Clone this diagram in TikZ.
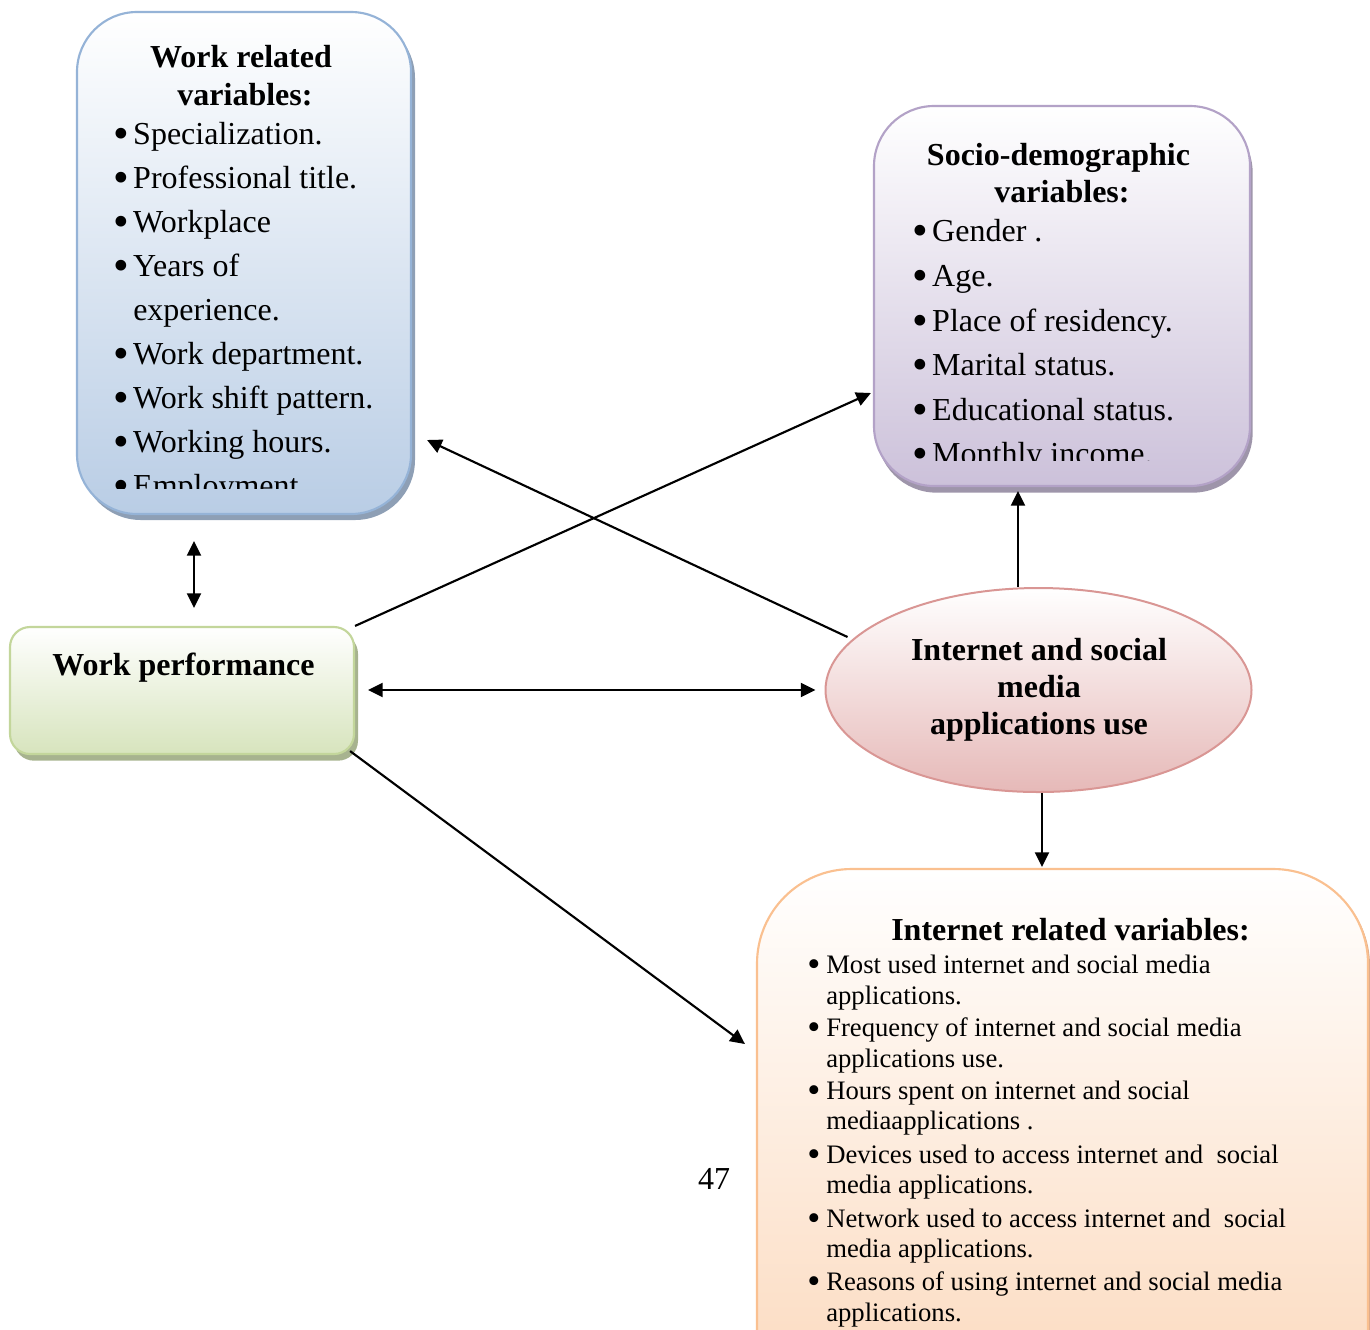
\documentclass[tikz,border=0pt]{standalone}
\usepackage{fontspec}
\setmainfont{Liberation Serif}
\usetikzlibrary{arrows.meta,shadows,calc,shapes.geometric}
\definecolor{bluefill}{HTML}{B9CDE5}
\definecolor{blueline}{HTML}{95B3D7}
\definecolor{blueshadow}{HTML}{8E9FB5}
\definecolor{purpfill}{HTML}{CCC1DA}
\definecolor{purpline}{HTML}{B3A2C7}
\definecolor{purpshadow}{HTML}{9E95AA}
\definecolor{greenfill}{HTML}{D7E4BD}
\definecolor{greenline}{HTML}{C3D69B}
\definecolor{greenshadow}{HTML}{A7B38F}
\definecolor{redfill}{HTML}{E6B9B8}
\definecolor{redline}{HTML}{D99694}
\definecolor{orfill}{HTML}{FBD3B2}
\definecolor{orline}{HTML}{FAC090}
\definecolor{orshadow}{HTML}{D9A98A}
\tikzset{
  boxshape/.style={rectangle, line width=1.6pt, inner sep=0pt},
  ttl/.style={anchor=base, inner sep=0pt, font=\fontsize{24}{28}\selectfont\bfseries},
  itm/.style={anchor=base west, inner sep=0pt, font=\fontsize{24}{28}\selectfont},
  sitm/.style={anchor=base west, inner sep=0pt, font=\fontsize{20}{24}\selectfont},
  conn/.style={line width=1.6pt, black},
  tip/.style={-{Triangle[length=11pt,width=10.5pt]}},
  dtip/.style={{Triangle[length=11pt,width=10.5pt]}-{Triangle[length=11pt,width=10.5pt]}}
}
\newcommand{\bul}[1]{\makebox[#1][l]{\raisebox{-0.13em}{\scalebox{1.4}{\textbullet}}}}
\begin{document}
\begin{tikzpicture}[x=0.75pt,y=-0.75pt]
\useasboundingbox (0,0) rectangle (1370,1329);
\clip (0,0) rectangle (1370,1329);

% shapes
\node[boxshape, rounded corners=45pt, minimum width=250.5pt, minimum height=376.5pt,
  draw=blueline, top color=white, bottom color=bluefill,
  drop shadow={shadow xshift=3pt, shadow yshift=-4.5pt, fill=blueshadow, opacity=1}] (wrv) at (244,263) {};
\node[boxshape, rounded corners=45pt, minimum width=282pt, minimum height=285pt,
  draw=purpline, top color=white, bottom color=purpfill,
  drop shadow={shadow xshift=2pt, shadow yshift=-5pt, fill=purpshadow, opacity=1}] (soc) at (1062,296) {};
\node[boxshape, rounded corners=15pt, minimum width=258pt, minimum height=95.25pt,
  draw=greenline, top color=white, bottom color=greenfill,
  drop shadow={shadow xshift=3pt, shadow yshift=-5pt, fill=greenshadow, opacity=1}] (wp) at (182,690.5) {};
\node[ellipse, line width=1.5pt, minimum width=319.5pt, minimum height=153pt, inner sep=0pt,
  draw=redline, top color=white, bottom color=redfill] (ell) at (1038.5,690) {};
\node[boxshape, rounded corners=71pt, minimum width=458.25pt, minimum height=473.25pt,
  draw=orline, top color=white, bottom color=orfill,
  drop shadow={shadow xshift=1.5pt, shadow yshift=-1.5pt, fill=orshadow, opacity=1}] (irv) at (1062.5,1184.5) {};

% work related variables text
\node[ttl] (wt1) at (241,67) {Work related};
\node[ttl] (wt2) at (245,105) {variables:};
\begin{scope}
\clip (77,12) rectangle (411,488);
\foreach \yy/\txt [count=\i] in {144/Specialization., 188.1/Professional title., 232.2/Workplace, 276.3/Years of, 364.5/Work department., 408.6/Work shift pattern., 452.7/Working hours., 496.8/Employment}
  \node[itm] (wi\i) at (113.5,\yy) {\bul{14.6pt}\txt};
\node[itm] (wc1) at (133,320.4) {experience.};
\end{scope}

% socio-demographic variables text
\node[ttl] (st1) at (1058.5,165) {Socio-demographic};
\node[ttl] (st2) at (1062,202) {variables:};
\begin{scope}
\clip (874,106) rectangle (1250,460);
\foreach \yy/\txt [count=\i] in {241/Gender ., 286/Age., 331/Place of residency., 375.5/Marital status., 420/Educational status., 464.5/Monthly income.}
  \node[itm] (si\i) at (912.5,\yy) {\bul{14.6pt}\txt};
\end{scope}

% work performance
\node[ttl] (wpt) at (183.5,675.5) {Work performance};

% ellipse text
\node[ttl] (el1) at (1039,660) {Internet and social};
\node[ttl] (el2) at (1039,697) {media};
\node[ttl] (el3) at (1039,734.5) {applications use};

% internet related variables
\node[ttl] (it0) at (1070.5,940.5) {Internet related variables:};
\foreach \yy/\txt [count=\i] in {973/Most used internet and social media, 1036/Frequency of internet and social media, 1099/Hours spent on internet and social, 1163/Devices used to access internet and\ \ social, 1227/Network used to access internet and\ \ social, 1290/Reasons of using internet and social media}
  \node[sitm] (ii\i) at (807,\yy) {\bul{14.25pt}\txt};
\foreach \yy/\txt [count=\i] in {1004/applications., 1067/applications use., 1129/mediaapplications ., 1193/media applications., 1257/media applications., 1321/applications.}
  \node[sitm] (ic\i) at (826,\yy) {\txt};

% page number
\node[anchor=base, inner sep=0pt, font=\fontsize{24}{28}\selectfont] (pg) at (714,1189) {47};

% connectors
\draw[conn, dtip] ($(wrv.south)+(-50,26)$) -- ($(wp.north)+(12,-18)$);
\draw[conn, tip] (wp.north east) -- ($(soc.west)+(-2,97)$);
\draw[conn, tip] ($(ell.center)+(-191,-53)$) -- ($(wrv.east)+(15,177)$);
\draw[conn, dtip] ($(wp.east)+(13,-0.5)$) -- ($(ell.west)+(-9,0)$);
\draw[conn, tip] ($(ell.north)+(-20.5,0)$) -- ($(soc.south)+(-44,4)$);
\draw[conn, tip] ($(ell.south)+(3.5,0)$) -- ($(irv.north)+(-20.5,-1)$);
\draw[conn, tip] ($(wp.south east)+(-5,-4)$) -- ($(irv.west)+(-11,-140.5)$);
\end{tikzpicture}
\end{document}
